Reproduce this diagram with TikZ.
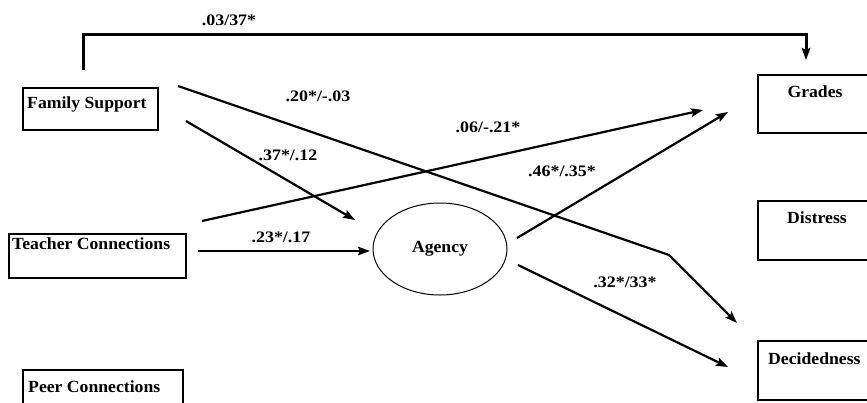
\documentclass[tikz,border=0pt]{standalone}
\usepackage{fontspec}
\setmainfont{Liberation Serif}
\newfontfamily\boxfont{Liberation Serif}[FakeStretch=1.04]
\newfontfamily\coeffont{Liberation Serif}[FakeStretch=1.12]
\usetikzlibrary{arrows.meta,shapes.geometric}
\begin{document}
\begin{tikzpicture}[x=1pt,y=-1pt,
  varbox/.style={draw,line width=1.5pt,rectangle,inner sep=0pt,anchor=north west},
  boxtext/.style={font={\boxfont\bfseries\fontsize{17}{19}\selectfont},inner sep=0pt},
  coef/.style={font={\coeffont\bfseries\fontsize{16}{18}\selectfont},inner sep=0pt},
  link/.style={line width=2.2pt,-{Stealth[length=12pt,width=8.5pt,inset=2pt]}},
]
\useasboundingbox (0,0) rectangle (867,402);

% observed variables
\node[varbox,minimum width=135pt,minimum height=42pt] (fam) at (22,87) {};
\node[boxtext,anchor=west] (famtxt) at (27,104) {Family Support};
\node[varbox,minimum width=177pt,minimum height=44pt] (tea) at (8,233) {};
\node[boxtext,anchor=west] (teatxt) at (12,244) {Teacher Connections};
\node[varbox,minimum width=160pt,minimum height=50pt] (peer) at (22,369) {};
\node[boxtext,anchor=west] (peertxt) at (28,387) {Peer Connections};

\node[varbox,minimum width=130pt,minimum height=58pt] (gra) at (757,74) {};
\node[boxtext] (gratxt) at (815,92) {Grades};
\node[varbox,minimum width=130pt,minimum height=59pt] (dis) at (757,200) {};
\node[boxtext] (distxt) at (817,218) {Distress};
\node[varbox,minimum width=130pt,minimum height=59pt] (dec) at (757,340) {};
\node[boxtext,anchor=west] (dectxt) at (768,359) {Decidedness};

% latent mediator
\node[draw,ellipse,line width=1pt,minimum width=134pt,minimum height=92pt,inner sep=0pt,
      font={\boxfont\bfseries\fontsize{17}{19}\selectfont}] (agency) at (440,249) {Agency};

% connector end points
\coordinate (fsTop) at (83,70);
\coordinate (topL) at (83,34);
\coordinate (topR) at (806,34);
\coordinate (grIn1) at (806,60);
\coordinate (fsA) at (178,86);
\coordinate (bend) at (669,255);
\coordinate (decIn1) at (737,323);
\coordinate (fsB) at (186,121);
\coordinate (agIn1) at (355,220);
\coordinate (tcA) at (202,221);
\coordinate (grIn2) at (703,110);
\coordinate (tcB) at (198,251);
\coordinate (agIn2) at (370,251);
\coordinate (agOut1) at (517,238);
\coordinate (grIn3) at (728,112);
\coordinate (agOut2) at (518,265);
\coordinate (decIn2) at (728,367);

% paths
\draw[link,line width=3pt] (fsTop) -- (topL) -- (topR) -- (grIn1);
\draw[link] (fsA) -- (bend) -- (decIn1);
\draw[link] (fsB) -- (agIn1);
\draw[link] (tcA) -- (grIn2);
\draw[link] (tcB) -- (agIn2);
\draw[link] (agOut1) -- (grIn3);
\draw[link] (agOut2) -- (decIn2);

% coefficients
\node[coef] (c1) at (229,20) {.03/37*};
\node[coef] (c2) at (318,96) {.20*/-.03};
\node[coef] (c3) at (288,155) {.37*/.12};
\node[coef] (c4) at (488,127) {.06/-.21*};
\node[coef] (c5) at (281,237) {.23*/.17};
\node[coef] (c6) at (562,171) {.46*/.35*};
\node[coef] (c7) at (625,282) {.32*/33*};
\end{tikzpicture}
\end{document}
